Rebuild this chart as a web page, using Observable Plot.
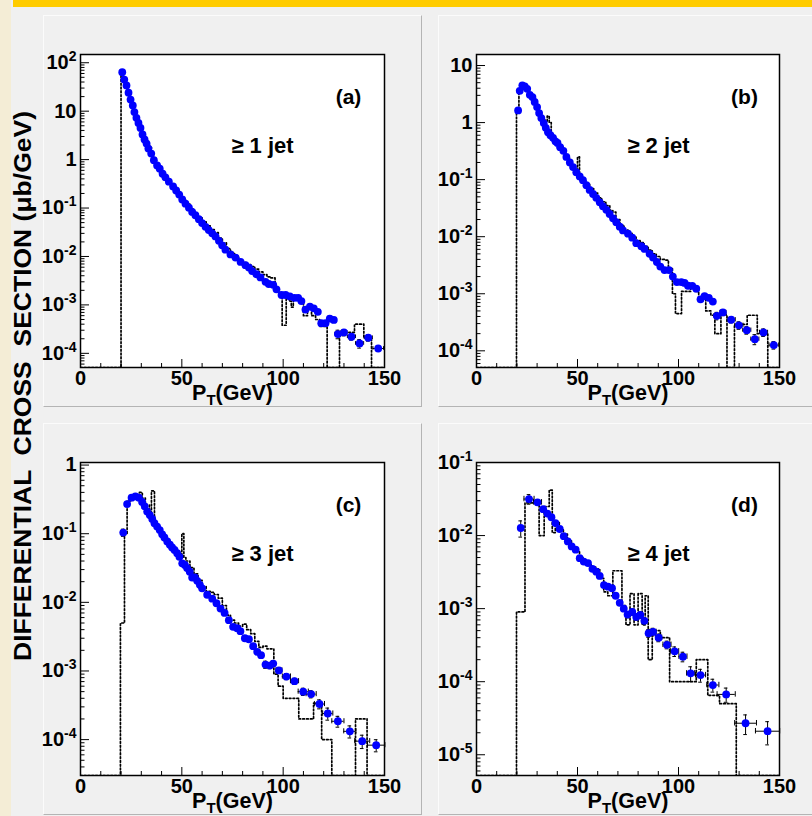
<!DOCTYPE html>
<html>
<head>
<meta charset="utf-8">
<script src="https://cdn.jsdelivr.net/npm/d3@7"></script>
<script src="https://cdn.jsdelivr.net/npm/@observablehq/plot@0.6"></script>
<style>
html,body{margin:0;padding:0;background:#f0f0f0;}
#root{position:relative;width:812px;height:816px;overflow:hidden;background:#f0f0f0;font-family:"Liberation Sans",Arial,sans-serif;}
#strip{position:absolute;left:0;top:0;width:11px;height:816px;background:#f4edd6;}
#bar{position:absolute;left:13px;top:0;width:799px;height:7px;background:#ffcc00;}
.pad{position:absolute;box-sizing:border-box;background:#f0f0f0;border-top:1px solid #fbfbfb;border-left:1px solid #fbfbfb;border-right:1px solid #b4b4b4;border-bottom:1px solid #b4b4b4;}
</style>
</head>
<body>
<div id="root">
  <div id="strip"></div>
  <div id="bar"></div>
  <div class="pad" style="left:43px;top:15px;width:379px;height:392px"></div>
  <div class="pad" style="left:438px;top:15px;width:379px;height:392px"></div>
  <div class="pad" style="left:43px;top:423px;width:379px;height:392px"></div>
  <div class="pad" style="left:438px;top:423px;width:379px;height:392px"></div>
  <svg id="ytitle" width="43" height="816" style="position:absolute;left:0;top:0;overflow:visible">
    <text transform="translate(31,386) rotate(-90)" text-anchor="middle" font-family="'Liberation Sans', Arial, sans-serif" font-weight="bold" font-size="23" textLength="550" lengthAdjust="spacingAndGlyphs" style="white-space:pre" fill="#000">DIFFERENTIAL  CROSS  SECTION (μb/GeV)</text>
  </svg>
</div>
<script>
// ---------- shared axis values ----------
const xDomain = [0, 150];
const xTickLabels = [0, 50, 100, 150];
const xMinorTicks = [10, 20, 30, 40, 60, 70, 80, 90, 110, 120, 130, 140];
const panelLabels = ["(a)", "(b)", "(c)", "(d)"];
const jetLabels = ["≥ 1 jet", "≥ 2 jet", "≥ 3 jet", "≥ 4 jet"];
const xTitle = "P_T(GeV)";

// ---------- panel (a): >= 1 jet ----------
const aYTicks = [1e-4, 1e-3, 1e-2, 1e-1, 1, 10, 100];
const aYDomain = [5.1e-5, 148];
const aX = [20.6,21.6,22.7,23.7,24.7,25.8,26.6,27.6,28.6,29.6,30.6,31.6,32.6,33.5,34.9,36.2,37.8,39.1,40.5,41.9,43.6,45.7,
  47.2,48.7,50.2,51.8,53.5,55.1,56.7,58.4,60.0,61.7,63.3,65.0,66.6,68.3,69.9,71.5,
  74.0,76.5,79.0,81.4,83.1,84.7,86.8,88.8,91.3,92.9,95.1,96.7,
  99.2,101.2,103.3,105.6,107.4,109.0,111.0,113.2,115.1,117.1,
  118.8,120.9,123.0,125.0,127.0,130.0,133.7,137.7,142.0,146.9];
const aY = [64,45,34,24,17.4,13.1,9.6,7.3,5.7,4.5,3.3,2.6,2.14,1.69,1.33,0.97,0.76,0.65,0.51,0.43,0.35,0.28,
  0.23,0.19,0.15,0.123,0.102,0.083,0.071,0.059,0.049,0.041,0.035,0.030,0.026,0.021,0.017,0.0138,
  0.011,0.0095,0.0077,0.0066,0.0059,0.005,0.0043,0.0037,0.003,0.0027,0.0026,0.0021,
  0.0016,0.0016,0.0015,0.0014,0.0014,0.0012,0.0008,0.00092,0.00085,0.00072,
  0.00042,0.00042,0.00052,0.00049,0.00025,0.00027,0.00022,0.00016,0.00021,0.000126];
const aErrX = [118.8,120.9,123.0,125.0,127.0,130.0,133.7,137.7,142.0,146.9];
const aErrHalfWidth = [1,1,1,1,1.5,1.5,2,2,2,2.6];
const aErrRel = [0.12,0.12,0.12,0.12,0.2,0.15,0.15,0.2,0.15,0.12];
const aMcEdge = [0,20,21,22,23,24,25,26,27,28,29,30,31,32,33,34,35,36,37,38,39,40,41,42,43,44,45,46,47,48,49,50,
  52,54,56,58,60,62,64,66,68,70,72,74,76,78,80,82,84,86,88,90,92,94,96,98,
  99.5,101.5,103,104,105,108,110,112,114,116,118,121.7,127.8,131,135.2,139.8,143.6];
const aMcVal = [0,64,47,34,25,18.5,14,10.5,8,6.2,4.8,3.8,3.0,2.5,2.1,1.8,1.5,1.1,0.85,0.70,0.62,0.52,0.45,0.40,0.36,0.32,0.30,0.28,0.22,0.19,0.165,0.145,
  0.12,0.095,0.078,0.063,0.052,0.043,0.036,0.031,0.024,0.019,0.0145,0.012,0.0098,0.0085,0.0075,0.0068,0.0062,0.0055,0.0048,0.0042,0.0038,0.0036,0.0022,0.0018,
  0.00038,0.0016,0.0012,0.0009,0.0014,0.0012,0.0006,0.0009,0.0006,0.0005,0.00036,0,0.00028,0.00027,0.0004,0.00021,0];

// ---------- panel (b): >= 2 jet ----------
const bYTicks = [1e-4, 1e-3, 1e-2, 1e-1, 1, 10];
const bYDomain = [5.1e-5, 15.6];
const bX = [20.6,21.4,22.7,23.9,25.1,26.4,27.7,28.8,30.0,31.0,32.1,33.3,34.3,35.4,36.6,37.9,39.1,40.1,41.4,43.0,
  44.5,46.2,47.8,49.4,51.1,52.7,54.4,56.0,57.7,59.3,61.0,62.6,64.3,65.9,67.6,69.2,70.9,72.5,75.0,77.1,
  79.1,81.6,83.2,85.7,87.4,89.3,91.0,93.1,95.3,97.2,99.2,101.4,103.0,104.7,106.8,108.8,110.9,112.9,115.0,117.0,
  119.0,122.0,126.1,129.9,133.8,137.8,142.1,147.2];
const bY = [1.63,3.6,4.5,4.3,3.9,3.07,2.8,2.3,1.87,1.47,1.2,0.98,0.81,0.68,0.6,0.54,0.47,0.44,0.37,0.32,
  0.25,0.20,0.166,0.135,0.114,0.098,0.08,0.066,0.056,0.048,0.040,0.034,0.0296,0.025,0.021,0.018,0.015,0.0129,0.0113,0.0096,
  0.0077,0.0068,0.0061,0.005,0.0043,0.0036,0.0030,0.0026,0.0026,0.0020,0.0016,0.0016,0.00155,0.00138,0.00137,0.00123,0.0008,0.00091,0.00085,0.00073,
  0.00041,0.00047,0.00035,0.00028,0.00023,0.00016,0.00021,0.000126];
const bErrX = [119.0,122.0,126.1,129.9,133.8,137.8,142.1,147.2];
const bErrHalfWidth = [1.5,1.5,2,2,2,2,2,2.4];
const bErrRel = [0.15,0.12,0.12,0.15,0.15,0.2,0.15,0.15];
const bMcEdge = [0,19.8,21,22,23,24,25,26,27,28,29,30,31,32,33,34,35,36,37,38,39,40,41,42,43,44,45,46,47,48,49,50,51,52,
  54,56,58,60,62,64,66,67.5,69,71,73,75,77,79,81,83,85,87,89,91,93,95,97,
  98.5,101.5,104,106,108,110,112,113.5,116,118,121,124,127.7,134,139,144.2];
const bMcVal = [0,1.6,3.6,4.5,4.7,4.2,3.6,3.2,3.0,2.6,2.1,1.7,1.45,1.25,1.1,1.05,1.3,1.0,0.62,0.55,0.5,0.45,0.4,0.38,0.34,0.27,0.24,0.21,0.18,0.16,0.14,0.25,0.12,0.1,
  0.085,0.07,0.058,0.048,0.041,0.035,0.029,0.027,0.02,0.016,0.013,0.0115,0.0098,0.0085,0.0079,0.0068,0.0058,0.005,0.0045,0.004,0.0039,0.0028,0.001,
  0.00045,0.0011,0.0011,0.0013,0.0011,0.00075,0.0009,0.0005,0.00042,0.0002,0.00043,0,0.00029,0.00042,0.0002,0];

// ---------- panel (c): >= 3 jet ----------
const cYTicks = [1e-4, 1e-3, 1e-2, 1e-1, 1];
const cYDomain = [3.0e-5, 1.09];
const cX = [21.1,23.0,25.2,27.1,28.8,30.4,31.7,32.9,34.2,35.4,36.5,37.8,39.1,40.3,41.4,42.8,44.1,45.2,46.4,47.7,
  48.8,50.2,51.5,52.6,53.9,55.1,56.4,57.6,58.9,60.0,62.5,65.0,67.1,69.1,71.1,73.2,75.3,77.3,78.9,81.1,
  83.1,85.2,87.2,89.1,91.3,93.4,95.1,97.9,101.6,105.6,109.9,113.8,117.9,122.0,127.0,132.9,139.0,145.9];
const cY = [0.104,0.27,0.335,0.35,0.335,0.29,0.25,0.21,0.187,0.164,0.142,0.127,0.113,0.098,0.088,0.077,0.069,0.063,0.058,0.052,
  0.046,0.037,0.035,0.0316,0.028,0.023,0.023,0.0206,0.018,0.016,0.0129,0.0113,0.0097,0.0081,0.007,0.0055,0.0044,0.0042,0.0038,0.003,
  0.0029,0.0023,0.0019,0.0017,0.00124,0.0012,0.00128,0.00102,0.00083,0.00071,0.0005,0.00046,0.00033,0.00024,0.000185,0.000132,0.000095,0.000083];
const cErrX = [21.1,87.2,89.1,91.3,93.4,95.1,97.9,101.6,105.6,109.9,113.8,117.9,122.0,127.0,132.9,139.0,145.9];
const cErrHalfWidth = [0.8,1,1,1,1,1,1.5,2,2,2.5,2.5,2.5,2.5,3,3,3.7,4.3];
const cErrRel = [0.12,0.08,0.08,0.12,0.1,0.1,0.1,0.1,0.1,0.12,0.12,0.15,0.2,0.18,0.2,0.22,0.2];
const cMcEdge = [0,19.7,21.7,23,25,27,29,30.5,32,34,35,36.5,38,40,41,43,45,47,49,50,51,52,54,56,58,60,62,64,66,68,
  70,72,74,76,78,80,82,84,86,88,90,92,95.4,97.5,100,107.7,115,119,124,135.7,141.4];
const cMcVal = [0,0.005,0.1,0.3,0.36,0.37,0.4,0.33,0.26,0.16,0.42,0.13,0.11,0.09,0.085,0.072,0.062,0.054,0.045,0.1,0.045,0.04,0.032,0.026,0.021,0.017,0.0145,0.014,0.013,0.0115,
  0.009,0.0065,0.0055,0.005,0.0045,0.0048,0.004,0.0035,0.0027,0.0022,0.0023,0.0021,0.0009,0.0006,0.0004,0.0002,0.00034,0.0001,0,0.0002,0];

// ---------- panel (d): >= 4 jet ----------
const dYTicks = [1e-5, 1e-4, 1e-3, 1e-2, 1e-1];
const dYDomain = [5.2e-6, 0.1];
const dX = [21.9,26.0,30.2,33.0,35.1,37.1,39.1,41.2,43.2,45.2,47.1,49.1,51.1,53.1,55.2,57.4,59.3,61.0,63.1,65.1,
  67.1,68.9,70.9,72.9,74.8,77.1,79.1,81.1,83.1,85.2,87.4,90.2,94.3,98.1,102.2,106.0,110.9,117.0,123.6,133.2,144.1];
const dY = [0.0127,0.0316,0.0285,0.023,0.02,0.0178,0.0148,0.0123,0.0098,0.0083,0.0071,0.0064,0.0049,0.0044,0.0042,0.0035,0.0032,0.0028,0.0021,0.0020,
  0.0019,0.0015,0.0012,0.001,0.00083,0.0009,0.00077,0.00082,0.00068,0.00046,0.00048,0.0004,0.00032,0.00026,0.00022,0.00013,0.000123,0.00009,0.000067,0.000027,0.000021];
const dErrX = dX;
const dErrHalfWidth = [1,2.5,2,1,1,1,1,1,1,1,1,1,1,1,1,1,1,1,1,1,1,1,1,1,1,1,1,1,1,1,1.5,1.5,2,2,2,2,2.5,3,4.5,5.4,6];
const dErrRel = [0.25,0.15,0.08,0.06,0.06,0.06,0.06,0.06,0.06,0.06,0.06,0.06,0.06,0.06,0.06,0.06,0.06,0.06,0.06,0.06,
  0.06,0.06,0.06,0.08,0.1,0.1,0.1,0.1,0.1,0.12,0.12,0.12,0.12,0.15,0.15,0.23,0.2,0.2,0.22,0.3,0.35];
const dMcEdge = [0,19.8,24,28.5,31,33.5,36,37.5,39,41,43,45,47,49,51,53,55,57,59,61,63,65,67.5,72,74,76,78,80,82,83.5,85,87,91,95.6,108.8,114.5,120.3,128.6];
const dMcVal = [0,0.0009,0.028,0.03,0.01,0.025,0.042,0.011,0.015,0.012,0.0105,0.0085,0.007,0.0062,0.005,0.0045,0.004,0.0037,0.0035,0.0026,
  0.0017,0.0015,0.0033,0.0011,0.0006,0.0016,0.0006,0.0016,0.0006,0.0015,0.0002,0.0005,0.0004,0.0001,0.0002,0.000065,0.00005,0];

// ---------- drawing ----------
const NS = "http://www.w3.org/2000/svg";
const FONT = '"Liberation Sans", Arial, Helvetica, sans-serif';

function decadeLabel(v) {
  const e = Math.round(Math.log10(v));
  if (e === 0) return "1";
  if (e === 1) return "10";
  return "10^" + e;
}

function minorTicks(domain) {
  const out = [];
  const e0 = Math.floor(Math.log10(domain[0])), e1 = Math.ceil(Math.log10(domain[1]));
  for (let e = e0; e <= e1; e++) for (let k = 2; k <= 9; k++) {
    const v = k * Math.pow(10, e);
    if (v > domain[0] && v < domain[1]) out.push(v);
  }
  return out;
}

function richText(svg) {
  svg.querySelectorAll("text").forEach(t => {
    const s = t.textContent;
    let m = /^10\^(-?\d+)$/.exec(s);
    if (m) {
      t.textContent = "10";
      const sup = document.createElementNS(NS, "tspan");
      sup.setAttribute("dy", "-8");
      sup.setAttribute("font-size", "14");
      sup.textContent = m[1];
      t.appendChild(sup);
      return;
    }
    m = /^(\w)_(\w)(.*)$/.exec(s);
    if (m) {
      t.textContent = m[1];
      const sub = document.createElementNS(NS, "tspan");
      sub.setAttribute("dy", "5");
      sub.setAttribute("font-size", "15");
      sub.textContent = m[2];
      const rest = document.createElementNS(NS, "tspan");
      rest.setAttribute("dy", "-5");
      rest.textContent = m[3];
      t.appendChild(sub);
      t.appendChild(rest);
    }
  });
}

function drawPanel(c) {
  const W = 379, H = 392, mt = 39, mb = 40;
  const ml = c.ml, fw = c.fw, mr = W - ml - fw, fh = H - mt - mb;
  const pts = c.x.map((v, i) => ({x: v, y: c.y[i]}));
  const errs = c.ex.map((v, i) => {
    const yy = c.y[c.x.indexOf(v)];
    return {x: v, y: yy, w: c.ew[i], lo: yy * (1 - c.er[i]), hi: yy * (1 + c.er[i])};
  });
  const mc = c.mcE.map((e, i) => ({x: e, y: c.mcV[i] > 0 ? c.mcV[i] : c.yDomain[0]}));
  mc.push({x: xDomain[1], y: mc[mc.length - 1].y});
  const yMajor = c.yTicks.filter(v => v >= c.yDomain[0] && v <= c.yDomain[1]);

  const svg = Plot.plot({
    width: W, height: H,
    marginLeft: ml, marginRight: mr, marginTop: mt, marginBottom: mb,
    style: {background: "transparent", fontFamily: FONT, fontSize: "20px", fontWeight: "bold", color: "black", overflow: "visible"},
    x: {domain: xDomain, ticks: xTickLabels, tickSize: 0, tickPadding: 3, label: null, tickFormat: d => String(d)},
    y: {type: "log", domain: c.yDomain, ticks: c.yTicks, tickSize: 0, tickPadding: 4, label: null, tickFormat: decadeLabel},
    marks: [
      Plot.frame({fill: "white"}),
      Plot.line(mc, {x: "x", y: "y", curve: "step-after", stroke: "black", strokeWidth: 1.7, strokeDasharray: "1.7,2.1", clip: true}),
      Plot.ruleX(xMinorTicks, {stroke: "black", strokeWidth: 1, insetTop: fh - 4}),
      Plot.ruleX(xTickLabels, {stroke: "black", strokeWidth: 1, insetTop: fh - 8}),
      Plot.ruleY(minorTicks(c.yDomain), {stroke: "black", strokeWidth: 1, insetRight: fw - 4.5}),
      Plot.ruleY(yMajor, {stroke: "black", strokeWidth: 1, insetRight: fw - 9}),
      Plot.ruleX(errs, {x: "x", y1: "lo", y2: "hi", stroke: "black", strokeWidth: 1}),
      Plot.ruleY(errs, {y: "y", x1: d => d.x - d.w, x2: d => d.x + d.w, stroke: "black", strokeWidth: 1}),
      Plot.ruleY(errs, {y: "lo", x1: d => d.x - 0.9, x2: d => d.x + 0.9, stroke: "black", strokeWidth: 1}),
      Plot.ruleY(errs, {y: "hi", x1: d => d.x - 0.9, x2: d => d.x + 0.9, stroke: "black", strokeWidth: 1}),
      Plot.ruleX(errs.filter(d => d.w > 1), {x: d => d.x - d.w, y1: d => d.y / 1.09, y2: d => d.y * 1.09, stroke: "black", strokeWidth: 1}),
      Plot.ruleX(errs.filter(d => d.w > 1), {x: d => d.x + d.w, y1: d => d.y / 1.09, y2: d => d.y * 1.09, stroke: "black", strokeWidth: 1}),
      Plot.dot(pts, {x: "x", y: "y", r: 3.9, fill: "#0000ff", stroke: "none"}),
      Plot.frame({stroke: "black", strokeWidth: 1.5}),
      Plot.text([c.label], {text: d => d, frameAnchor: "top-left", dx: 268, dy: 43, textAnchor: "middle", lineAnchor: "middle", fontSize: 21, fontWeight: "bold"}),
      Plot.text([c.jet], {text: d => d, frameAnchor: "top-left", dx: 182, dy: 91, textAnchor: "middle", lineAnchor: "middle", fontSize: 22, fontWeight: "bold"}),
      Plot.text([xTitle], {text: d => d, frameAnchor: "bottom", dy: 25.5, textAnchor: "middle", lineAnchor: "middle", fontSize: 21.5, fontWeight: "bold"})
    ]
  });
  richText(svg);
  svg.style.position = "absolute";
  svg.style.left = c.left + "px";
  svg.style.top = c.top + "px";
  svg.style.maxWidth = "none";
  document.getElementById("root").appendChild(svg);
}

drawPanel({x: aX, y: aY, ex: aErrX, ew: aErrHalfWidth, er: aErrRel, mcE: aMcEdge, mcV: aMcVal,
  yDomain: aYDomain, yTicks: aYTicks, label: panelLabels[0], jet: jetLabels[0], left: 43, top: 15, ml: 37, fw: 304});
drawPanel({x: bX, y: bY, ex: bErrX, ew: bErrHalfWidth, er: bErrRel, mcE: bMcEdge, mcV: bMcVal,
  yDomain: bYDomain, yTicks: bYTicks, label: panelLabels[1], jet: jetLabels[1], left: 438, top: 15, ml: 38, fw: 303});
drawPanel({x: cX, y: cY, ex: cErrX, ew: cErrHalfWidth, er: cErrRel, mcE: cMcEdge, mcV: cMcVal,
  yDomain: cYDomain, yTicks: cYTicks, label: panelLabels[2], jet: jetLabels[2], left: 43, top: 423, ml: 37, fw: 304});
drawPanel({x: dX, y: dY, ex: dErrX, ew: dErrHalfWidth, er: dErrRel, mcE: dMcEdge, mcV: dMcVal,
  yDomain: dYDomain, yTicks: dYTicks, label: panelLabels[3], jet: jetLabels[3], left: 438, top: 423, ml: 38, fw: 303});
</script>
</body>
</html>
